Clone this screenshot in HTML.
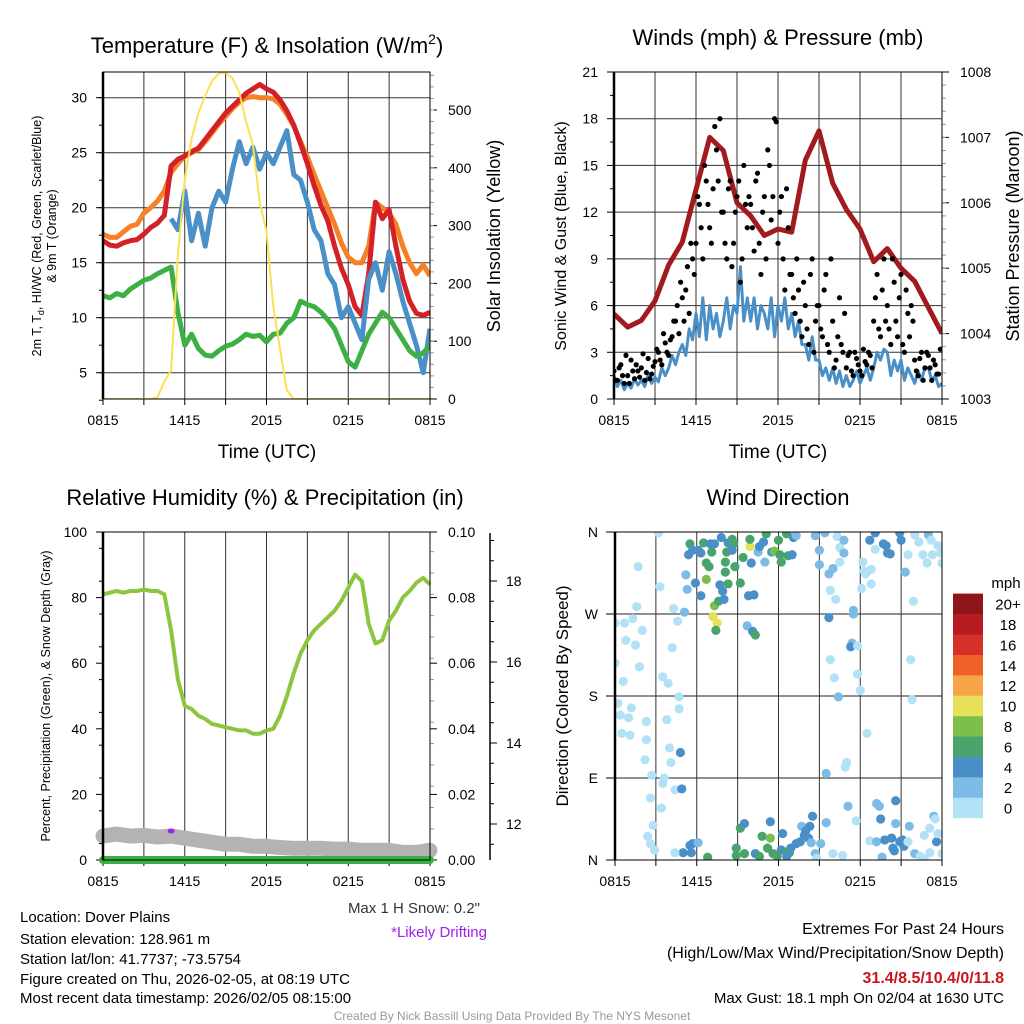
<!DOCTYPE html>
<html><head><meta charset="utf-8">
<style>
html,body{margin:0;padding:0;background:#fff;}
svg{display:block;font-family:"Liberation Sans",Arial,sans-serif;}
</style></head>
<body>
<svg id="fig" width="1024" height="1024" viewBox="0 0 1024 1024" xmlns="http://www.w3.org/2000/svg">
<defs>
<clipPath id="c1"><rect x="103" y="72" width="327" height="327"/></clipPath>
<clipPath id="c2"><rect x="614" y="72" width="328" height="327"/></clipPath>
<clipPath id="c3"><rect x="103" y="532" width="327" height="328"/></clipPath>
<clipPath id="c4"><rect x="615" y="532" width="327" height="328"/></clipPath>
</defs>
<text x="267" y="53" font-size="22" text-anchor="middle">Temperature (F) &amp; Insolation (W/m<tspan dy="-9" font-size="14">2</tspan><tspan dy="9">)</tspan></text>
<text x="778" y="45" font-size="22" text-anchor="middle">Winds (mph) &amp; Pressure (mb)</text>
<text x="265" y="505" font-size="22" text-anchor="middle">Relative Humidity (%) &amp; Precipitation (in)</text>
<text x="778" y="505" font-size="22" text-anchor="middle">Wind Direction</text>

<text transform="translate(41,236) rotate(-90)" font-size="12.5" text-anchor="middle">2m T, T<tspan dy="3" font-size="9">d</tspan><tspan dy="-3">, HI/WC (Red, Green, Scarlet/Blue)</tspan></text>
<text transform="translate(56,236) rotate(-90)" font-size="12.5" text-anchor="middle">&amp; 9m T (Orange)</text>
<text transform="translate(500,236) rotate(-90)" font-size="18" text-anchor="middle">Solar Insolation (Yellow)</text>
<text x="267" y="458" font-size="19" text-anchor="middle">Time (UTC)</text>
<text transform="translate(566,236) rotate(-90)" font-size="16" text-anchor="middle">Sonic Wind &amp; Gust (Blue, Black)</text>
<text transform="translate(1019,236) rotate(-90)" font-size="18" text-anchor="middle">Station Pressure (Maroon)</text>
<text x="778" y="458" font-size="19" text-anchor="middle">Time (UTC)</text>
<text transform="translate(50,696) rotate(-90)" font-size="12.5" text-anchor="middle">Percent, Precipitation (Green), &amp; Snow Depth (Gray)</text>
<text transform="translate(568,696) rotate(-90)" font-size="17" text-anchor="middle">Direction (Colored By Speed)</text>

<text x="480" y="913" font-size="15" fill="#333" text-anchor="end">Max 1 H Snow: 0.2"</text>
<text x="487" y="937" font-size="15" fill="#a020f0" text-anchor="end">*Likely Drifting</text>
<g font-size="15">
<text x="20" y="922">Location: Dover Plains</text>
<text x="20" y="944">Station elevation: 128.961 m</text>
<text x="20" y="964">Station lat/lon: 41.7737; -73.5754</text>
<text x="20" y="984">Figure created on Thu, 2026-02-05, at 08:19 UTC</text>
<text x="20" y="1003">Most recent data timestamp: 2026/02/05 08:15:00</text>
</g>
<g font-size="16" text-anchor="end">
<text x="1004" y="934">Extremes For Past 24 Hours</text>
<text x="1004" y="958">(High/Low/Max Wind/Precipitation/Snow Depth)</text>
<text x="1004" y="983" fill="#c8161d" font-weight="bold">31.4/8.5/10.4/0/11.8</text>
<text x="1004" y="1003" font-size="15">Max Gust: 18.1 mph On 02/04 at 1630 UTC</text>
</g>
<text x="512" y="1020" font-size="12" fill="#999" text-anchor="middle">Created By Nick Bassill Using Data Provided By The NYS Mesonet</text>
</svg>
<script>
// ---- data ----
var xTickLabels = ["0815","1415","2015","0215","0815"];
var tempRed = [17,16.6,16.5,16.8,17,17.1,17.6,18.2,18.6,19.3,23.8,24.4,24.7,25.1,25.4,26.2,27,27.8,28.6,29.2,29.8,30.4,30.8,31.2,30.8,30.5,29.8,28.8,27.5,25.8,24,22,20.2,18.8,16.5,14.5,13,11,10.2,14,20.5,19,19.8,16.5,13.5,11.5,10.4,10.2,10.5];
var tempOrange = [17.6,17.3,17.3,17.8,18.3,18.5,19.5,20,20.6,21.5,23.2,24,24.7,25,25.3,26,26.8,27.6,28.3,29,29.6,30,30.1,30,30,29.9,29.4,28.5,27.4,26,24.6,23,21.5,20,18.5,16.8,15.5,15,15,16.5,20.5,20,19.5,18.5,16.5,15,14,14.8,13.8];
var tempBlue = [null,null,null,null,null,null,null,null,null,null,19,18,21.5,17,19.5,16.5,20,21.5,20.5,23.5,26,24,25.5,23.5,25,24,25.5,27,23,22.5,20.5,18,17,14,13,10,11,9.5,8,13.5,15,12.5,16,14,11.5,9.5,7.5,5,9];
var tempGreen = [12,11.8,12.2,12,12.6,13,13.4,13.6,14,14.3,14.6,10.5,7.5,8.5,7.2,6.6,6.5,7,7.4,7.6,8,8.5,8.3,8.4,7.8,8.5,8.6,9.5,10,11.5,11.2,11,10.5,9.8,9,7.5,6,5.5,7,8.5,9.5,10.5,10,9,8,7,6.5,6.8,7.5];
var insolation = [0,0,0,0,0,0,0,0,3,30,50,250,380,450,495,525,550,563,565,555,530,480,440,340,290,160,85,15,0,0,0,0,0,0,0,0,0,0,0,0,0,0,0,0,0,0,0,0,0];
var tempTicks = [5,10,15,20,25,30];
var insTicks = [0,100,200,300,400,500];

var windSpeed = [1.5,0.8,1.2,0.6,1,0.7,1.3,0.9,1.2,0.8,1.6,1,1.4,1.1,2,1.5,2,2.8,2.2,3,3.5,2.8,4.5,3.8,5.5,4,6.5,3.8,6,4.5,5.5,4,5,6.5,4.5,6,5.5,8.5,5,6.5,5,6.5,4.5,6,5.5,4.5,6.5,4,6,5,6.5,4.5,5.5,4,5,3.5,3.5,2.5,4,2.5,2.5,1.5,2,1.2,2,1,1.8,0.8,1.5,0.8,1.2,1.8,1,1.5,2,1.2,2,3,2.5,3.2,3,1.5,2.5,1.8,2.5,1.2,2,1.5,1,1.8,1.2,2,2,1.2,1.5,0.8,1.0];
var gusts = [1.8,1.2,2.2,1,1.5,2.5,1.3,1.8,2,1.2,2.6,1.6,2.4,3,2.2,3.6,2.8,4,5,4.2,6.5,7,5.5,9,10,12.5,9,14,11,13.5,16,18,12,9,14,10,13,7.5,15,11,12.5,9.5,14.5,8,13,16,11.5,18,10,13,7,11,8,5.5,7,4,6,3.5,9,5,6,4,8,3,5,2.5,6.5,3,2,3,1.5,2.6,1.8,3.2,2.2,2.8,5,8,4,9,6,3.5,7.5,4,8,3,5.5,6,2.5,1.5,3,2,2.8,1.2,2.2,1.6];
var gusts2 = [1.2,2,1.5,2.8,1,1.8,2.2,1.4,2.9,1.7,1.3,2.1,3.2,2.5,4.2,3,3.8,5,6,7.5,5,8.5,10,8,13,11,15,12.5,10,17.5,14,12,10,13.5,8.5,12,14,9,12.5,13,11,14,10,12,9,15,13,17.8,12,9,13.5,8,6.5,9,5,7.5,4.5,8,3,6,4.5,7,3.5,9,2,4,3.5,5.5,2.8,1.8,3,2.2,1.5,2.4,3,2,6.5,4.5,7,5,4.5,9,5,6.5,3.5,7,4,5,1.8,2.6,1.2,3,2,2.5,1.6,3.2];
var pressure = [1004.3,1004.1,1004.2,1004.5,1005.05,1005.4,1006.2,1007.0,1006.8,1006.0,1005.8,1005.5,1005.6,1005.55,1006.65,1007.1,1006.3,1005.9,1005.6,1005.1,1005.3,1005.0,1004.8,1004.4,1004.0];
var windTicks = [0,3,6,9,12,15,18,21];
var presTicks = [1003,1004,1005,1006,1007,1008];

var rh = [81,81.5,82,81.5,82,82,82.5,82,82,81,70,55,47,46,44,43,41.5,41,40.5,40,39.5,39.5,38.5,38.5,39.5,40,44,50,57,63,67,70,72,74,76,79,83,87,85,72,66,67,73,76,80,82,84.5,86,84];
var snowDepth = [11.7,11.75,11.7,11.72,11.68,11.7,11.65,11.6,11.55,11.5,11.5,11.45,11.45,11.42,11.4,11.4,11.4,11.38,11.38,11.35,11.35,11.35,11.3,11.3,11.35];
var precip = [0,0,0,0,0,0,0,0,0,0,0,0,0,0,0,0,0,0,0,0,0,0,0,0,0];
var rhTicks = [0,20,40,60,80,100];
var precipTicks = ["0.00","0.02","0.04","0.06","0.08","0.10"];
var snowTicks = [12,14,16,18];

var dirHours = [0,0,0.6,0.7,0.8,1.3,1.5,1.8,2.0,1.6,1.7,0.2,0.4,1.0,0.5,1.1,1.2,2.3,2.3,2.2,2.7,2.6,2.8,2.4,2.6,2.9,3.2,3.3,3.5,3.9,3.8,4.0,4.1,4.3,4.2,4.6,4.7,4.7,3.6,3.5,4.4,3.4,4.8,4.9,5.1,
5.5,5.4,5.2,5.3,5.9,6.3,5.7,6.1,6.3,6.5,7.0,7.3,7.8,7.1,6.7,6.9,6.7,7.3,7.6,7.2,7.5,7.4,7.7,7.9,8.0,8.1,8.2,8.3,8.6,8.7,8.6,8.1,8.3,8.8,9.2,9.4,9.8,10.2,9.7,10.1,10.3,9.9,9.9,10.0,10.5,10.6,10.9,11.1,11.0,11.5,11.7,12.0,12.2,12.1,12.6,12.7,13.0,13.1,13.3,
14.7,15.0,15.4,15.0,15.7,16.0,16.3,16.5,16.8,16.8,16.5,15.8,16.2,15.7,17.5,17.5,17.4,17.3,17.8,15.8,16.1,16.4,17.8,18.0,18.5,17.0,16.9,15.5,18.2,18.3,18.8,18.4,18.8,18.1,18.7,19.1,19.1,19.7,19.9,20.0,20.2,20.9,21.0,21.3,21.9,21.7,21.8,21.5,22.0,22.3,22.6,22.9,23.0,23.2,23.3,23.7,23.9,24.0,
9.2,9.5,8.9,8.9,9.5,6.8,5.5,5.7,6.1,5.6,5.0,4.4,10.3,10.6,10.8,11.2,11.4,11.4,11.6,11.9,12.2,12.3,12.6,12.8,12.9,12.6,13.3,13.6,13.7,13.9,14.0,14.2,14.3,14.5,14.4,14.7,15.1,15.5,14.8,16.0,16.7,17.1,17.7,19.2,19.4,19.5,20.6,18.7,19.2,19.8,20.3,20.4,20.5,19.6,20.6,20.9,21.1,21.2,21.5,21.6,22.0,22.4,22.7,23.1,22.7,23.1,23.4,23.6,23.7,23.5,24.0];
var dirDegrees = [260,216,196,260,241,265,236,212,252,278,322,172,159,156,139,137,167,152,132,110,93,68,38,26,18,11,359,300,201,194,154,123,107,276,233,262,179,166,90,84,77,57,118,78,272,
347,335,313,297,304,290,340,340,337,348,347,347,354,338,326,322,308,279,284,267,260,252,302,295,286,316,338,348,352,347,340,327,303,322,304,332,290,291,257,251,247,344,352,326,338,344,349,358,327,338,339,351,327,335,358,334,335,354,356,
356,340,359,324,314,320,355,343,351,337,327,296,286,266,274,270,238,234,235,220,200,179,204,186,139,107,102,95,327,317,319,314,303,298,351,359,341,347,345,337,336,359,351,316,284,220,176,335,357,349,335,326,357,351,335,345,337,326,
35,40,13,5,7,3,16,18,19,8,8,8,7,4,26,13,24,42,7,4,11,29,9,8,13,4,18,20,37,27,32,24,37,48,19,7,18,41,2,7,5,59,43,62,59,45,65,21,20,22,24,13,10,3,40,20,22,15,20,37,7,4,1,35,27,8,48,20,29,45,7];
var dirSpeeds = [1,1,1,1,1,1,1,1,1,1,1,1,1,1,1,1,1,1,1,1,1,1,1,1,1,1,1,1,1,1,1,1,1,1,1,1,1,1,1,1,1,1,5,5,3,
7,5,3,3,5,5,5,5,5,7,5,5,5,7,7,7,9,9,7,11,11,7,5,5,5,7,7,5,7,7,5,7,7,7,7,7,5,5,3,5,7,11,7,5,3,5,5,7,3,5,9,7,7,7,7,7,5,5,3,
3,3,3,3,3,3,1,1,3,3,1,1,1,5,3,3,3,5,1,1,1,3,1,1,1,1,1,3,1,1,1,1,1,1,5,5,1,5,5,5,5,5,5,3,1,1,1,1,1,1,1,1,3,1,1,1,1,1,
7,5,7,7,7,7,5,5,3,5,5,1,5,7,7,7,9,5,7,7,5,5,7,7,5,5,5,5,3,5,5,5,5,5,3,3,3,3,1,1,1,3,1,3,3,5,5,1,3,5,5,5,5,3,3,5,5,5,1,3,3,1,1,1,1,1,3,5,1,1,1];
var dirTicks = ["N","E","S","W","N"];
var speedBins = ["0","2","4","6","8","10","12","14","16","18","20+"];
var speedColors = ["#b3e2f7","#7dbbe6","#4a8fc7","#48a46b","#7cc04b","#e6e15a","#f6a445","#ef6029","#d7302a","#b81c23","#8f1518"];

// ---- helpers ----
var NS = "http://www.w3.org/2000/svg";
var svg = document.getElementById("fig");
function mk(tag, attrs, parent) {
  var e = document.createElementNS(NS, tag);
  for (var k in attrs) e.setAttribute(k, attrs[k]);
  (parent || svg).appendChild(e);
  return e;
}
function lin(d0, d1, r0, r1) { return function (v) { return r0 + (v - d0) * (r1 - r0) / (d1 - d0); }; }
function pathFrom(vals, step, xs, ys) {
  var d = "", pen = false;
  for (var i = 0; i < vals.length; i++) {
    if (vals[i] === null) { pen = false; continue; }
    d += (pen ? "L" : "M") + xs(i * step).toFixed(1) + "," + ys(vals[i]).toFixed(1);
    pen = true;
  }
  return d;
}
function txt(x, y, s, size, anchor, parent) {
  var t = mk("text", {x: x, y: y, "font-size": size, "text-anchor": anchor}, parent);
  t.textContent = s;
  return t;
}
function frame(x0, y0, x1, y1, g) {
  mk("rect", {x: x0, y: y0, width: x1 - x0, height: y1 - y0, fill: "none", stroke: "#000", "stroke-width": 1}, g);
  mk("line", {x1: x0, y1: y0, x2: x0, y2: y1, stroke: "#000", "stroke-width": 2.5}, g);
}
function timeAxis(xs, y0, y1, g) {
  for (var h = 3; h < 24; h += 3) mk("line", {x1: xs(h), y1: y0, x2: xs(h), y2: y1, stroke: "#333", "stroke-width": 1}, g);
  for (var h2 = 0; h2 <= 24; h2 += 3) mk("line", {x1: xs(h2), y1: y1, x2: xs(h2), y2: y1 + 6, stroke: "#000"}, g);
  for (var i = 0; i < xTickLabels.length; i++) {
    var t = txt(xs(i * 6), y1 + 26, xTickLabels[i], 14, "middle", g);
    
    
  }
}

// ================= Panel 1: temperature =================
var g1 = mk("g", {});


var x1 = lin(0, 24, 103, 430);
var yT = lin(5, 30, 372.7, 97.7);
var yI = lin(0, 500, 399, 110);
for (var i = 0; i < tempTicks.length; i++) {
  var yy = yT(tempTicks[i]);
  mk("line", {x1: 103, y1: yy, x2: 430, y2: yy, stroke: "#333"}, g1);
  mk("line", {x1: 96, y1: yy, x2: 103, y2: yy, stroke: "#000"}, g1);
  var tl = txt(87, yy + 5, String(tempTicks[i]), 14, "end", g1);
  
  
}
for (var v = 2.5; v < 32.2; v += 2.5) mk("line", {x1: 99, y1: yT(v), x2: 103, y2: yT(v), stroke: "#000"}, g1);
for (var j = 0; j < insTicks.length; j++) {
  var yi = yI(insTicks[j]);
  mk("line", {x1: 430, y1: yi, x2: 437, y2: yi, stroke: "#000"}, g1);
  var il = txt(448, yi + 5, String(insTicks[j]), 14, "start", g1);
  
  
}
for (var w = 20; w < 565; w += 20) mk("line", {x1: 430, y1: yI(w), x2: 434, y2: yI(w), stroke: "#999"}, g1);
timeAxis(x1, 72, 399, g1);
var s1 = mk("g", {"clip-path": "url(#c1)"}, g1);
var pO = mk("path", {d: pathFrom(tempOrange, 0.5, x1, yT), fill: "none", stroke: "#f58025", "stroke-width": 5, "stroke-linejoin": "round"}, s1);


var pR = mk("path", {d: pathFrom(tempRed, 0.5, x1, yT), fill: "none", stroke: "#d42027", "stroke-width": 5, "stroke-linejoin": "round"}, s1);


var pB = mk("path", {d: pathFrom(tempBlue, 0.5, x1, yT), fill: "none", stroke: "#4a90c8", "stroke-width": 5, "stroke-linejoin": "round"}, s1);


var pG = mk("path", {d: pathFrom(tempGreen, 0.5, x1, yT), fill: "none", stroke: "#3cb043", "stroke-width": 5, "stroke-linejoin": "round"}, s1);


var pY = mk("path", {d: pathFrom(insolation, 0.5, x1, yI), fill: "none", stroke: "#fbe051", "stroke-width": 2}, s1);


frame(103, 72, 430, 399, g1);

// ================= Panel 2: winds =================
var g2 = mk("g", {});


var x2 = lin(0, 24, 614, 942);
var yW = lin(0, 21, 399, 72);
var yP = lin(1003, 1008, 399, 72);
for (var i2 = 0; i2 < windTicks.length; i2++) {
  var wy = yW(windTicks[i2]);
  mk("line", {x1: 614, y1: wy, x2: 942, y2: wy, stroke: "#333"}, g2);
  mk("line", {x1: 607, y1: wy, x2: 614, y2: wy, stroke: "#000"}, g2);
  if (windTicks[i2] < 21) mk("line", {x1: 610, y1: yW(windTicks[i2] + 1.5), x2: 614, y2: yW(windTicks[i2] + 1.5), stroke: "#000"}, g2);
  var wl = txt(598, wy + 5, String(windTicks[i2]), 14, "end", g2);
  
  
}
for (var k2 = 0; k2 < presTicks.length; k2++) {
  var py = yP(presTicks[k2]);
  mk("line", {x1: 942, y1: py, x2: 949, y2: py, stroke: "#000"}, g2);
  var pl = txt(960, py + 5, String(presTicks[k2]), 14, "start", g2);
  
  
}
for (var pv = 1003.2; pv < 1008; pv += 0.2) mk("line", {x1: 942, y1: yP(pv), x2: 946, y2: yP(pv), stroke: "#999"}, g2);
timeAxis(x2, 72, 399, g2);
var s2 = mk("g", {"clip-path": "url(#c2)"}, g2);
var pW = mk("path", {d: pathFrom(windSpeed, 0.25, x2, yW), fill: "none", stroke: "#4a90c8", "stroke-width": 3, "stroke-linejoin": "round"}, s2);


var pPr = mk("path", {d: pathFrom(pressure, 1, x2, yP), fill: "none", stroke: "#a11a1d", "stroke-width": 5, "stroke-linejoin": "round"}, s2);


for (var gi = 0; gi < gusts.length; gi++) {
  var gd = mk("circle", {cx: x2(gi * 0.25), cy: yW(gusts[gi]), r: 2.6, fill: "#000"}, s2);
  
  
}
for (var gj = 0; gj < gusts2.length; gj++) {
  var gd2 = mk("circle", {cx: x2(gj * 0.25 + 0.125), cy: yW(gusts2[gj]), r: 2.6, fill: "#000"}, s2);
  
  
}
frame(614, 72, 942, 399, g2);

// ================= Panel 3: RH =================
var g3 = mk("g", {});


var x3 = lin(0, 24, 103, 430);
var yH = lin(0, 100, 860, 532);
var yPc = lin(0, 0.1, 860, 532);
var yS = lin(12, 18, 824, 581);
for (var r = 0; r < rhTicks.length; r++) {
  var ry = yH(rhTicks[r]);
  mk("line", {x1: 96, y1: ry, x2: 103, y2: ry, stroke: "#000"}, g3);
  mk("line", {x1: 430, y1: ry, x2: 437, y2: ry, stroke: "#000"}, g3);
  var rl = txt(87, ry + 5, String(rhTicks[r]), 14, "end", g3);
  
  
  var pcl = txt(448, ry + 5, precipTicks[r], 14, "start", g3);
  
  
}
for (var rv = 5; rv < 100; rv += 10) { mk("line", {x1: 99, y1: yH(rv), x2: 103, y2: yH(rv), stroke: "#000"}, g3); }
for (var pv2 = 3; pv2 < 100; pv2 += 6.5) mk("line", {x1: 430, y1: yH(pv2), x2: 434, y2: yH(pv2), stroke: "#999"}, g3);
mk("line", {x1: 490, y1: 533, x2: 490, y2: 860, stroke: "#000", "stroke-width": 1.5}, g3);
for (var sv = 11.5; sv < 19.2; sv += 0.5) mk("line", {x1: 490, y1: yS(sv), x2: 494, y2: yS(sv), stroke: "#000"}, g3);
for (var si = 0; si < snowTicks.length; si++) {
  var sy = yS(snowTicks[si]);
  mk("line", {x1: 490, y1: sy, x2: 497, y2: sy, stroke: "#000"}, g3);
  var sl = txt(506, sy + 5, String(snowTicks[si]), 14, "start", g3);
  
  
}
timeAxis(x3, 532, 860, g3);
var s3 = mk("g", {}, g3);
var pS = mk("path", {d: pathFrom(snowDepth, 1, x3, yS), fill: "none", stroke: "#b3b3b3", "stroke-width": 15, "stroke-linecap": "round", "stroke-linejoin": "round"}, s3);


var pH = mk("path", {d: pathFrom(rh, 0.5, x3, yH), fill: "none", stroke: "#8cc63f", "stroke-width": 4, "stroke-linejoin": "round"}, s3);


var pPc = mk("path", {d: pathFrom(precip, 1, x3, yPc), fill: "none", stroke: "#3cb043", "stroke-width": 8, "stroke-linecap": "round"}, s3);


var drift = mk("ellipse", {cx: x3(5.0), cy: 831, rx: 3.5, ry: 2.5, fill: "#a020f0"}, s3);


frame(103, 532, 430, 860, g3);

// ================= Panel 4: wind direction =================
var g4 = mk("g", {});


var x4 = lin(0, 24, 615, 942);
var yD = lin(0, 360, 860, 532);
for (var d4 = 0; d4 < dirTicks.length; d4++) {
  var dy = yD(d4 * 90);
  mk("line", {x1: 615, y1: dy, x2: 942, y2: dy, stroke: "#222"}, g4);
  mk("line", {x1: 606, y1: dy, x2: 615, y2: dy, stroke: "#000"}, g4);
  var dl = txt(598, dy + 5, dirTicks[d4], 14, "end", g4);
  
  
}
timeAxis(x4, 532, 860, g4);
var s4 = mk("g", {"clip-path": "url(#c4)"}, g4);
function binColor(s) { var b = Math.min(10, Math.floor(s / 2)); return speedColors[b]; }
for (var p = 0; p < dirHours.length; p++) {
  var c = mk("circle", {cx: x4(dirHours[p]), cy: yD(dirDegrees[p]), r: 4.6, fill: binColor(dirSpeeds[p])}, s4);
  
  
}
frame(615, 532, 942, 860, g4);
var lg = mk("g", {});


var mt = txt(1006, 588, "mph", 15, "middle", lg);


for (var b = 0; b < speedBins.length; b++) {
  var yb = 818 - (b + 1) * 20.4;
  var rc = mk("rect", {x: 953, y: yb, width: 30, height: 20.6, fill: speedColors[b]}, lg);
  
  
  var lt = txt(1008, yb + 16, speedBins[b], 15, "middle", lg);
  
  
}
</script>
</body></html>
